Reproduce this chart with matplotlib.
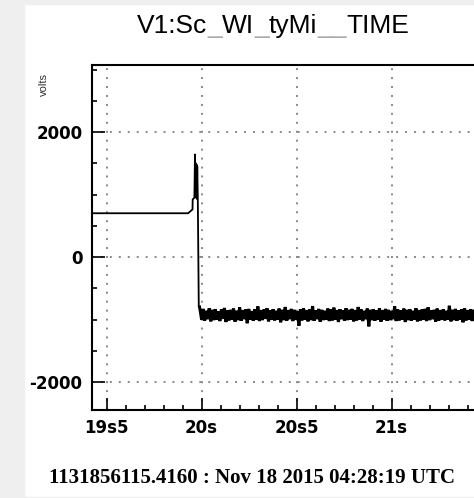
import numpy as np
import matplotlib
matplotlib.use("Agg")
import matplotlib.pyplot as plt
from matplotlib.patches import Rectangle
from matplotlib.transforms import IdentityTransform
from matplotlib.ticker import FixedLocator, MultipleLocator

plt.rcParams["path.simplify"] = False

# ---------------- data ----------------
title_parts = [("V1:Sc", "black"), ("_", "#aaaaaa"), ("WI", "black"), ("_", "#aaaaaa"),
               ("tyMi", "black"), ("__", "#aaaaaa"), ("TIME", "black")]
footer = "1131856115.4160 : Nov 18 2015 04:28:19 UTC"
y_label = "volts"

x_tick_values = [19.5, 20.0, 20.5, 21.0]
x_tick_labels = ["19s5", "20s", "20s5", "21s"]
y_tick_values = [-2000, 0, 2000]
y_tick_labels = ["-2000", "0", "2000"]

# pre-event and transition (seconds, volts)
event_t = [19.30, 19.929, 19.940, 19.952, 19.953, 19.962, 19.965, 19.967, 19.969,
           19.971, 19.973, 19.975, 19.977, 19.980, 19.985, 19.989]
event_v = [700, 700, 730, 760, 920, 950, 1640, 1000, 1500,
           950, 1480, 930, 1450, 900, -790, -800]

# noisy plateau after the event (sampled every noise_dt seconds)
noise_start = 19.992
noise_dt = 0.008
noise_v = [
    -850, -1005, -830, -1020, -860, -995, -820, -1030, -845, -1010, -835, -1000, -870, -1025, -840, -990, -815, -1040, -855, -1015,
    -845, -1000, -825, -1035, -860, -1010, -805, -1020, -850, -995, -840, -1060, -830, -1005, -865, -1020, -835, -1000, -790, -1025,
    -850, -1010, -840, -990, -820, -1030, -855, -1005, -835, -1015, -860, -1000, -825, -1045, -845, -1010, -800, -1020, -850, -995,
    -830, -1025, -845, -1005, -865, -1100, -835, -1015, -820, -1000, -850, -1030, -840, -1010, -785, -1020, -855, -995, -830, -1035,
    -845, -1010, -860, -1000, -825, -1025, -840, -1015, -810, -1005, -850, -1040, -835, -995, -855, -1020, -820, -1010, -845, -1000,
    -830, -1030, -850, -1015, -800, -1005, -840, -1025, -860, -995, -825, -1110, -845, -1010, -835, -1020, -855, -1000, -820, -1035,
    -850, -1005, -830, -1020, -845, -1010, -865, -995, -790, -1025, -840, -1015, -855, -1000, -825, -1040, -845, -1010, -835, -1020,
    -860, -1000, -820, -1030, -850, -1015, -840, -1005, -830, -1025, -805, -1010, -855, -995, -845, -1035, -825, -1020, -850, -1005,
    -835, -1015, -860, -1000, -780, -1030, -845, -1010, -830, -1020, -855, -1000, -840, -1045, -820, -1015, -850, -1005, -835, -1025,
    -845, -1010, -825, -1000, -860, -1030, -840, -1015, -850, -1105, -830, -1020, -855, -1000, -810, -1025, -845, -1010, -835, -1000,
]

# ---------------- figure ----------------
W, H = 474, 498
fig = plt.figure(figsize=(W / 100, H / 100), dpi=100, facecolor="white")
bg = "#efefef"
fig.patches.extend([
    Rectangle((0, 0), 24 / W, 1, transform=fig.transFigure, color=bg, zorder=-5),
    Rectangle((0, 1 - 4 / H), 1, 4 / H, transform=fig.transFigure, color=bg, zorder=-5),
    Rectangle((0, 0), 1, 1.5 / H, transform=fig.transFigure, color=bg, zorder=-5),
])

ax = fig.add_axes([92 / W, 88 / H, (505.6 - 92) / W, 345 / H])
noise_t = noise_start + noise_dt * np.arange(len(noise_v))
ax.plot(event_t, event_v, color="black", lw=1.3, zorder=3)
ax.plot(np.concatenate([event_t[-1:], noise_t]), np.concatenate([event_v[-1:], noise_v]),
        color="black", lw=2.2, zorder=3, solid_joinstyle="miter")

ax.set_xlim(19.423, 21.6)
ax.set_ylim(-2448, 3072)

ax.xaxis.set_major_locator(FixedLocator(x_tick_values))
ax.set_xticklabels(x_tick_labels)
ax.xaxis.set_minor_locator(MultipleLocator(0.1))
ax.yaxis.set_major_locator(FixedLocator(y_tick_values))
ax.set_yticklabels(y_tick_labels)
ax.yaxis.set_minor_locator(MultipleLocator(500))

ax.tick_params(which="both", direction="in", top=False, right=False, width=1.2, color="black")
ax.tick_params(which="major", length=9)
ax.tick_params(which="minor", length=3.5)
ax.tick_params(axis="y", which="major", pad=7)
ax.tick_params(axis="x", which="major", pad=6.5)
for lab in ax.get_xticklabels() + ax.get_yticklabels():
    lab.set_fontfamily("DejaVu Sans")
    lab.set_fontweight("bold")
    lab.set_fontsize(12)

for s in ax.spines.values():
    s.set_linewidth(1.5)

ax.grid(True, which="major", color="#888888", linestyle=(0, (1, 3.6)), linewidth=1.4, zorder=1)

# y label
fig.text(44 / W, 1 - 85 / H, y_label, rotation=90, fontsize=8, family="Liberation Sans",
         ha="center", va="center", color="#333333")

# title with grey underscores
renderer = fig.canvas.get_renderer()
x = 137
for s, c in title_parts:
    t = fig.text(x, H - 33, s, transform=IdentityTransform(), fontsize=19,
                 family="Liberation Sans", color=c, ha="left", va="baseline")
    bb = t.get_window_extent(renderer)
    x = bb.x1

# footer
fig.text(252 / W, 15 / H, footer, fontsize=15, family="Liberation Serif", fontweight="bold",
         ha="center", va="baseline")

fig.savefig("out.png", dpi=100)
